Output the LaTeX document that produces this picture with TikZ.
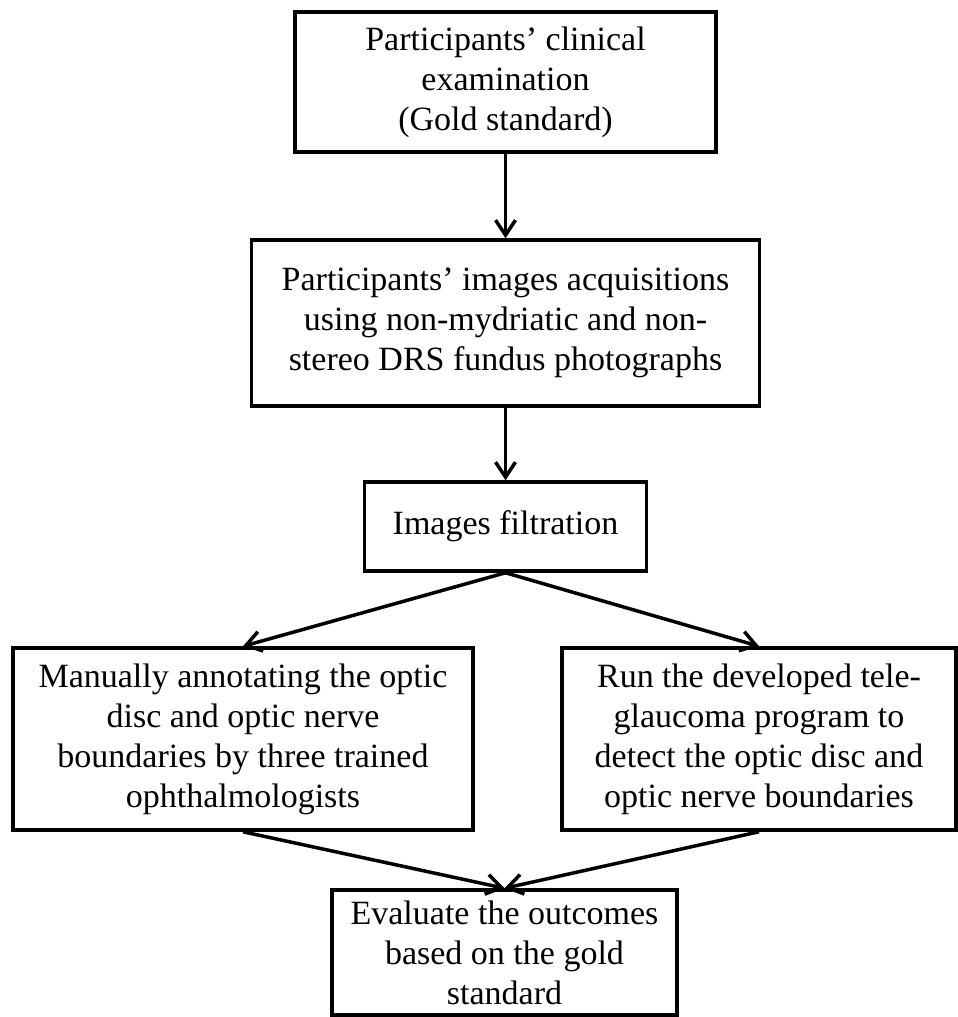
\documentclass[tikz,border=0pt]{standalone}
\usepackage{fontspec}
\setmainfont{Liberation Serif}
\usetikzlibrary{arrows.meta}

\begin{document}
\begin{tikzpicture}[x=1pt, y=-1pt, line width=3.5pt,
		box/.style={draw, rectangle, align=center, inner sep=0pt, font=\fontsize{34}{40}\selectfont},
		arr/.style={-{Straight Barb[length=15pt,width=20pt]}}]
		\useasboundingbox (0,0) rectangle (958,1017);
		
		%boxes, top to bottom
		\node[box, minimum width=421pt, minimum height=140pt] (exam) at (505.5, 82){Participants' clinical\\examination\\(Gold standard)};
		\node[box, minimum width=508pt, minimum height=166pt] (acq) at (505.5, 323){Participants' images acquisitions\\using non-mydriatic and non-\\stereo DRS fundus photographs};
		\node[box, minimum width=282pt, minimum height=89pt] (filt) at (505.5, 526.5){Images filtration};
		\node[box, minimum width=460pt, minimum height=182pt] (manual) at (243, 739){Manually annotating the optic\\disc and optic nerve\\boundaries by three trained\\ophthalmologists};
		\node[box, minimum width=394pt, minimum height=182pt] (auto) at (759, 739){Run the developed tele-\\glaucoma program to\\detect the optic disc and\\optic nerve boundaries};
		\node[box, minimum width=345pt, minimum height=125pt] (eval) at (504.5, 952.5){Evaluate the outcomes\\based on the gold\\standard};
		
		%arrows
		\draw[arr] (exam.south) -- (acq.north);
		\draw[arr] (acq.south) -- (filt.north);
		\draw[arr] (filt.south) -- (manual.north);
		\draw[arr] (filt.south) -- (auto.north);
		\draw[arr] (manual.south) -- (eval.north);
		\draw[arr] (auto.south) -- (eval.north);
		\end{tikzpicture}
\end{document}
